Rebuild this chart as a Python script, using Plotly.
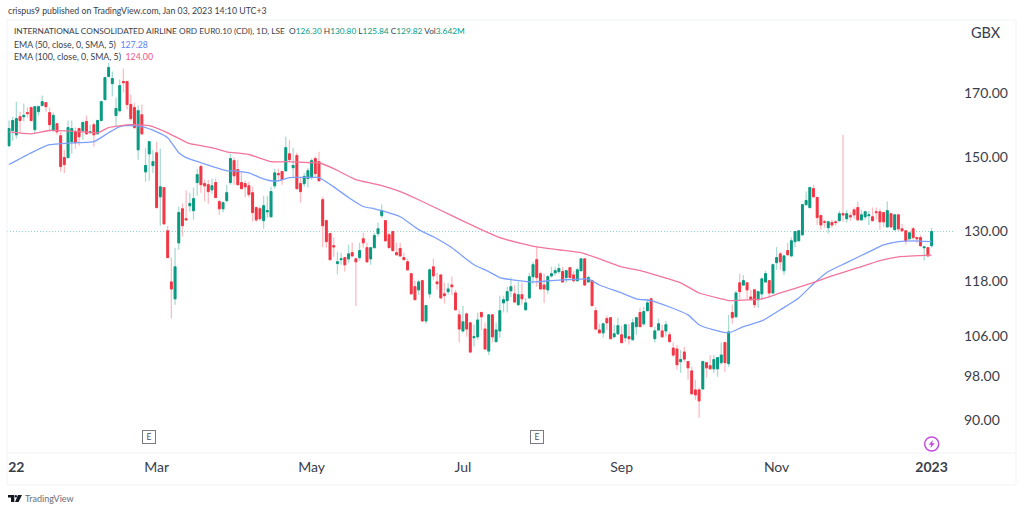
import pandas as pd
import plotly.graph_objects as go

holidays = ["2022-04-15","2022-04-18","2022-05-02","2022-06-02","2022-06-03","2022-08-29","2022-09-19","2022-12-26","2022-12-27","2023-01-02"]
dates = [d.strftime("%Y-%m-%d") for d in pd.bdate_range("2022-01-04","2023-01-03") if d.strftime("%Y-%m-%d") not in holidays]

opens = [153.4,158.0,156.7,162.3,162.3,163.6,165.2,158.3,163.9,165.9,
166.8,163.6,158.0,160.1,156.4,149.9,149.9,154.6,157.6,158.6,
158.0,160.8,157.3,159.8,157.0,161.1,167.8,175.5,173.1,162.7,
164.2,173.8,173.8,166.2,165.2,152.2,162.9,145.8,151.0,147.6,
151.3,138.9,141.4,130.0,117.7,113.9,127.0,135.7,133.1,136.5,
135.2,142.8,147.3,142.5,142.2,140.8,142.8,137.6,135.7,137.9,
142.8,149.0,146.4,142.8,142.5,141.9,140.0,136.0,135.7,132.6,
134.9,133.6,141.9,145.3,145.9,146.1,151.0,147.0,150.5,142.5,
142.5,143.9,144.2,149.6,148.7,138.1,132.6,129.3,126.3,122.0,
122.9,123.4,123.1,124.6,123.1,123.4,128.0,125.8,123.1,125.8,
129.3,133.9,132.6,129.0,129.8,124.6,125.6,123.4,122.4,119.6,
116.6,115.9,118.0,109.1,115.0,121.2,117.7,119.3,115.0,115.5,
117.0,115.2,110.4,107.0,110.6,108.7,105.6,105.8,110.9,107.4,
102.9,110.4,104.8,107.0,113.0,113.5,115.7,115.0,112.6,114.8,
111.5,114.1,118.9,122.9,119.6,117.0,115.9,119.1,119.8,120.1,
120.1,118.7,121.0,119.3,118.0,120.3,123.1,117.7,118.0,111.3,
107.2,106.6,109.6,109.8,105.8,106.4,106.2,105.6,105.8,105.2,
107.9,110.9,108.5,111.3,113.9,105.4,107.2,107.0,107.0,106.2,
103.5,103.3,100.8,102.7,100.8,99.0,95.4,95.4,95.6,100.6,
100.0,99.4,99.4,100.6,104.6,100.4,110.9,110.0,117.5,117.0,
117.5,114.3,115.9,113.7,115.0,117.7,118.0,115.2,122.2,124.3,
120.3,125.1,123.8,127.3,127.5,129.0,136.8,136.0,141.1,138.7,
133.9,132.3,130.8,132.1,132.3,132.6,134.4,133.1,133.9,135.4,
136.0,132.8,133.6,133.9,133.6,134.9,134.9,134.7,131.0,134.4,
130.3,134.1,130.5,130.0,128.0,130.5,128.3,128.3,125.8,125.8,126.30]

highs = [161.1,162.3,167.1,163.9,166.5,165.2,165.5,165.5,165.9,169.1,
166.8,165.2,163.6,160.1,157.6,152.2,161.1,161.1,158.9,158.9,
160.8,162.7,159.8,160.5,161.4,167.5,175.5,180.3,177.2,168.5,
174.5,178.2,173.8,169.4,166.8,165.9,166.2,152.8,154.6,152.2,
154.6,152.5,141.4,131.3,123.4,125.8,136.3,137.1,140.6,140.0,
141.4,146.7,147.9,143.6,143.6,143.9,143.9,138.1,137.6,142.2,
151.0,149.9,149.3,145.9,143.3,143.0,141.6,136.3,136.3,139.2,
139.2,141.6,146.7,146.7,145.9,156.1,155.2,152.8,151.3,144.2,
145.5,147.0,149.6,150.2,151.6,138.9,132.8,129.5,128.3,124.8,
124.6,123.6,126.5,127.0,123.4,127.0,129.5,127.0,126.0,129.5,
132.1,136.8,132.6,129.5,129.8,127.0,127.0,124.6,123.1,119.8,
118.0,118.2,118.2,112.6,120.8,123.1,119.8,119.3,117.5,117.5,
118.9,115.9,111.5,112.4,110.9,108.9,108.3,110.9,111.1,108.7,
110.6,110.6,108.7,114.6,114.6,116.6,118.7,117.0,117.7,117.5,
114.1,119.8,122.4,126.0,120.1,119.6,119.3,121.2,121.2,122.0,
121.2,120.5,121.2,120.3,121.0,123.1,123.1,119.1,118.2,112.1,
108.5,108.5,110.2,109.8,108.3,109.8,108.1,108.5,108.5,109.6,
110.0,111.9,112.1,113.9,114.1,107.9,109.6,108.3,109.1,106.8,
104.6,104.1,103.1,103.7,100.8,99.8,97.3,95.8,101.0,100.8,
102.1,102.1,101.7,104.6,104.8,110.4,112.6,115.7,119.6,119.3,
117.5,115.9,116.1,115.7,118.7,120.3,118.0,122.0,126.0,124.8,
124.1,127.0,128.3,129.8,130.3,136.8,140.3,141.6,142.2,138.9,
134.1,132.8,132.6,132.8,132.8,135.2,156.7,135.4,134.7,136.0,
137.6,135.4,135.2,135.2,136.0,136.0,135.7,134.7,137.6,134.4,
134.4,134.1,131.8,130.0,129.8,131.0,128.5,129.0,126.0,125.8,130.80]

lows = [153.1,154.9,155.5,157.3,160.8,162.0,160.8,157.0,162.7,165.5,
163.9,158.0,157.6,156.7,145.8,145.5,149.6,151.0,152.5,153.4,
155.2,156.7,157.0,153.1,156.7,161.1,167.5,175.5,168.8,159.5,
163.6,170.1,164.6,161.1,158.6,149.3,156.7,143.0,143.3,145.5,
136.0,131.3,131.5,123.4,109.6,112.6,125.3,128.5,132.6,134.9,
132.8,139.2,140.0,137.6,137.0,139.7,138.7,134.1,134.7,137.3,
142.2,142.2,141.9,141.1,138.7,138.7,132.3,132.3,132.6,130.5,
133.4,133.4,141.1,143.6,142.2,146.1,148.7,144.2,141.1,137.3,
141.6,141.4,143.6,144.2,143.0,126.0,125.8,122.9,123.6,119.4,
121.7,120.1,122.2,123.6,112.3,122.7,125.8,122.2,121.7,125.6,
128.5,133.4,127.3,125.8,124.8,123.8,123.6,122.9,120.3,114.8,
113.7,114.8,108.9,108.5,114.1,118.2,115.9,113.9,112.8,114.8,
114.8,111.5,104.6,106.6,105.8,102.5,103.8,105.2,107.2,103.3,
102.1,104.6,104.6,105.6,110.9,110.9,114.3,113.2,112.4,112.6,
111.5,114.1,117.3,116.6,115.9,113.0,115.0,118.7,119.1,119.6,
117.5,117.5,118.7,117.5,117.7,120.1,116.8,117.5,112.4,107.2,
106.6,105.6,107.2,105.4,105.6,106.2,104.4,104.8,104.2,105.0,
106.2,107.9,108.1,111.1,107.9,104.6,107.0,105.6,105.8,104.6,
101.7,99.2,98.6,100.8,97.3,94.5,93.6,90.4,95.4,97.7,
99.4,98.6,97.9,100.2,98.8,99.8,108.5,109.8,113.7,116.8,
113.9,113.5,111.9,111.9,113.7,117.5,114.1,115.2,120.5,120.5,
119.3,123.8,123.6,126.0,127.3,128.8,136.5,136.0,138.9,131.5,
130.3,130.8,129.3,130.8,131.3,132.3,132.3,132.1,132.6,133.1,
132.6,132.6,132.8,131.5,132.3,132.8,130.3,131.0,131.0,130.8,
130.0,130.0,129.8,126.5,127.8,127.8,127.0,126.0,122.7,123.6,125.84]

closes = [158.6,161.1,161.7,161.1,162.7,163.3,161.1,165.5,165.5,167.1,
165.5,159.8,162.7,157.6,147.3,147.9,158.9,158.6,154.3,156.1,
160.5,157.0,157.6,156.7,161.1,167.1,175.1,178.6,174.8,164.9,
172.4,173.4,166.2,161.7,158.9,164.2,157.0,147.6,154.6,148.7,
136.0,141.6,131.8,123.4,116.1,121.2,134.7,131.3,132.8,137.1,
138.4,145.0,142.2,141.9,140.3,141.9,138.7,135.7,137.3,140.0,
149.6,144.7,142.2,141.1,141.6,139.5,134.7,132.8,133.1,136.5,
135.2,140.3,145.5,145.0,143.6,152.8,149.3,147.6,141.1,140.3,
144.5,146.1,149.0,145.3,143.3,131.3,127.3,122.9,126.0,122.4,
123.1,121.7,124.3,123.8,122.4,125.1,127.0,122.4,125.8,128.8,
130.5,135.2,127.5,125.8,125.1,124.1,123.8,122.9,120.5,115.0,
113.7,117.7,109.1,112.4,120.5,119.1,117.3,114.1,114.6,116.1,
116.6,111.5,107.4,108.9,107.4,102.7,105.8,109.3,110.0,103.3,
110.4,105.8,107.2,111.3,113.7,115.5,116.6,113.2,114.8,113.9,
113.0,118.9,121.7,118.7,116.1,116.1,118.9,119.6,120.3,120.8,
117.7,120.3,118.7,118.0,120.5,123.1,117.0,118.7,112.4,107.4,
106.6,108.5,108.7,105.4,106.4,108.1,104.6,108.3,105.4,108.7,
109.8,107.9,111.1,113.0,107.9,107.0,108.5,105.8,108.3,104.8,
102.1,100.2,101.2,101.3,99.6,94.7,94.5,93.4,100.8,99.6,
99.4,101.2,101.6,102.1,100.6,106.8,109.8,115.2,115.5,118.0,
115.9,113.7,112.6,115.5,118.4,119.6,115.2,121.7,123.4,122.4,
123.8,124.1,127.5,129.8,130.0,136.8,137.9,141.4,138.9,133.4,
131.5,132.2,132.3,131.5,132.1,134.4,134.1,134.4,133.6,134.1,
132.8,134.1,134.9,134.1,132.6,134.7,132.3,132.3,135.2,131.0,
134.1,130.5,130.0,127.5,129.5,128.3,128.0,126.3,126.0,123.8,129.82]

ema50_idx = [0,6,11,14,19,23,27,30,32,36,40,43,46,48,52,56,59,61,65,68,71,73,76,81,84,88,92,96,99,101,106,111,115,120,126,130,133,138,142,147,151,156,157,160,166,170,174,179,184,187,191,195,199,204,209,214,218,222,227,233,237,241,245,250]
ema50_val = [147.9,151.3,153.7,154.0,154.3,154.6,157.3,159.2,159.5,159.2,157.6,155.8,151.3,149.9,148.4,147.0,146.1,146.1,145.5,144.2,143.3,143.3,144.2,144.2,144.2,141.6,138.7,136.3,135.7,135.2,133.6,130.3,128.5,125.8,121.7,120.1,118.7,118.0,117.7,118.0,118.2,118.4,118.4,117.0,115.2,113.9,113.5,112.1,110.4,108.3,107.2,106.6,107.9,109.1,111.5,114.1,117.3,120.1,122.2,124.8,126.5,127.3,127.5,127.28]
ema100_idx = [0,6,11,20,24,27,33,38,43,49,52,56,59,65,71,75,82,84,88,94,100,106,111,120,128,133,139,143,149,155,160,166,171,176,182,187,193,195,201,204,209,217,223,230,236,241,250]
ema100_val = [157.6,157.0,158.0,157.6,157.3,158.9,159.8,159.5,157.3,154.0,153.4,152.5,151.6,150.8,148.7,148.7,148.4,148.4,146.7,143.6,142.2,140.3,138.1,133.9,130.3,128.3,126.8,126.0,125.3,124.6,123.1,121.2,120.3,119.1,117.5,115.2,113.9,113.5,113.7,113.9,115.2,117.3,119.1,121.0,122.7,123.6,124.00]

y_ticks = [90, 98, 106, 118, 130, 150, 170]
x_tick_idx = [2, 40, 82, 123, 166, 208, 250]
x_tick_text = ["<b>22</b>", "Mar", "May", "Jul", "Sep", "Nov", "<b>2023</b>"]
earnings_idx = [38, 143]
last_close = 129.82

W, H = 1024, 511
L, R, T, B = 7, 953, 20, 453
UP, DOWN = "#089981", "#f23645"
UP_W, DOWN_W = "#a9dcd2", "#fdbcc2"
BLUE, PINK = "#7b9ffb", "#f2769c"
FONT = "Lato, sans-serif"
TXT = "#3a3e4a"

def px(x): return (x - L) / (R - L)
def py(y): return (B - y) / (B - T)
def poly(pts):
    return "M " + " L ".join(f"{px(a):.5f},{py(b):.5f}" for a, b in pts) + " Z"

fig = go.Figure()
fig.add_trace(go.Candlestick(x=dates, open=opens, high=highs, low=lows, close=closes,
    increasing=dict(line=dict(color=UP_W, width=1.3), fillcolor="rgba(0,0,0,0)"),
    decreasing=dict(line=dict(color=DOWN_W, width=1.3), fillcolor="rgba(0,0,0,0)"),
    whiskerwidth=0, hoverinfo="skip", showlegend=False))
fig.add_trace(go.Candlestick(x=dates, open=opens, close=closes,
    high=[max(a, b) for a, b in zip(opens, closes)],
    low=[min(a, b) for a, b in zip(opens, closes)],
    increasing=dict(line=dict(color=UP, width=1), fillcolor=UP),
    decreasing=dict(line=dict(color=DOWN, width=1), fillcolor=DOWN),
    whiskerwidth=0, hoverinfo="skip", showlegend=False))
fig.add_trace(go.Scatter(x=[dates[i] for i in ema50_idx], y=ema50_val, mode="lines",
    line=dict(color=BLUE, width=1.3, shape="spline", smoothing=0.5), hoverinfo="skip", showlegend=False))
fig.add_trace(go.Scatter(x=[dates[i] for i in ema100_idx], y=ema100_val, mode="lines",
    line=dict(color=PINK, width=1.3, shape="spline", smoothing=0.5), hoverinfo="skip", showlegend=False))

FR = "#f0f3fa"
shapes = [
    dict(type="line", xref="paper", yref="y", x0=0, x1=1, y0=last_close, y1=last_close, layer="below",
         line=dict(color="#8fd0c4", width=1, dash="1px,2px")),
    dict(type="line", xref="paper", yref="paper", x0=px(L), x1=px(L), y0=py(T), y1=py(485), line=dict(color=FR, width=1)),
    dict(type="line", xref="paper", yref="paper", x0=px(L), x1=px(1016), y0=py(T), y1=py(T), line=dict(color=FR, width=1)),
    dict(type="line", xref="paper", yref="paper", x0=px(1016), x1=px(1016), y0=py(T), y1=py(485), line=dict(color=FR, width=1)),
    dict(type="line", xref="paper", yref="paper", x0=px(L), x1=px(1016), y0=py(453), y1=py(453), line=dict(color=FR, width=1)),
    dict(type="line", xref="paper", yref="paper", x0=px(L), x1=px(1016), y0=py(485), y1=py(485), line=dict(color=FR, width=1)),
    dict(type="circle", xref="paper", yref="paper", x0=px(924.7), x1=px(938.7), y0=py(437), y1=py(451),
         line=dict(color="#c050d8", width=1.5), fillcolor="white"),
    dict(type="path", xref="paper", yref="paper", path=poly([(933,440),(928.6,444.8),(931,444.8),(930.4,448),(934.8,443.2),(932.2,443.2)]),
         line=dict(width=0), fillcolor="#c050d8"),
    dict(type="path", xref="paper", yref="paper", path=poly([(8,495),(14.3,495),(14.3,502),(11,502),(11,497.6),(8,497.6)]),
         line=dict(width=0), fillcolor="#131722"),
    dict(type="circle", xref="paper", yref="paper", x0=px(14.8), x1=px(17.0), y0=py(495), y1=py(497.4),
         line=dict(width=0), fillcolor="#131722"),
    dict(type="path", xref="paper", yref="paper", path=poly([(18,495),(22,495),(18.6,502),(15,502)]),
         line=dict(width=0), fillcolor="#131722"),
]

def label(x, y, text, size=10.5, color=TXT, anchor="left", **kw):
    return dict(xref="paper", yref="paper", x=px(x), y=py(y), text=text, showarrow=False,
                xanchor=anchor, yanchor="middle", font=dict(family=FONT, size=size, color=color), **kw)

v = lambda s: f'<span style="color:{UP}">{s}</span>'
annotations = [
    label(6, 11, "crispus9 published on TradingView.com, Jan 03, 2023 14:10 UTC+3", size=8.75),
    label(12, 31, "INTERNATIONAL CONSOLIDATED AIRLINE ORD EUR0.10 (CDI), 1D, LSE  "
          f"O{v('126.30')} H{v('130.80')} L{v('125.84')} C{v('129.82')} Vol{v('3.642M')}", size=8.3),
    label(12, 44, f'EMA (50, close, 0, SMA, 5)  <span style="color:#5b82f5">127.28</span>', size=8.8),
    label(12, 56, f'EMA (100, close, 0, SMA, 5)  <span style="color:#f0568a">124.00</span>', size=8.8),
    label(986, 32, "GBX", size=14.5, anchor="center"),
    label(23, 498, "TradingView", size=9, color="#6a6d78"),
]
for i in earnings_idx:
    annotations.append(dict(xref="x", yref="paper", x=dates[i], y=py(443.5), text="E", showarrow=False,
        font=dict(family=FONT, size=8.5, color="#50535e"), bordercolor="#787b86", borderwidth=1,
        width=12, height=12, borderpad=0, bgcolor="white"))

fig.update_layout(
    width=W, height=H, autosize=False,
    margin=dict(l=L, r=W - R, t=T, b=H - B, pad=0),
    paper_bgcolor="white", plot_bgcolor="white", showlegend=False,
    shapes=shapes, annotations=annotations,
    xaxis=dict(type="category", categoryorder="array", categoryarray=dates,
        range=[-0.54, 255.8], rangeslider=dict(visible=False), showgrid=False, zeroline=False,
        showline=False, ticks="", tickmode="array", tickvals=[dates[i] for i in x_tick_idx], ticktext=x_tick_text,
        tickangle=0, tickfont=dict(family=FONT, size=14, color=TXT), ticklabelstandoff=4),
    yaxis=dict(type="log", range=[1.9263, 2.2920], side="right", showgrid=False, zeroline=False, showline=False,
        ticks="", tickmode="array", tickvals=y_ticks, ticktext=[f"{t:.2f}" for t in y_ticks],
        tickfont=dict(family=FONT, size=14, color=TXT), ticklabelstandoff=10),
)

fig.write_html("out.html", config=dict(displayModeBar=False),
    post_script="document.body.style.margin='0';document.documentElement.style.overflow='hidden';")
